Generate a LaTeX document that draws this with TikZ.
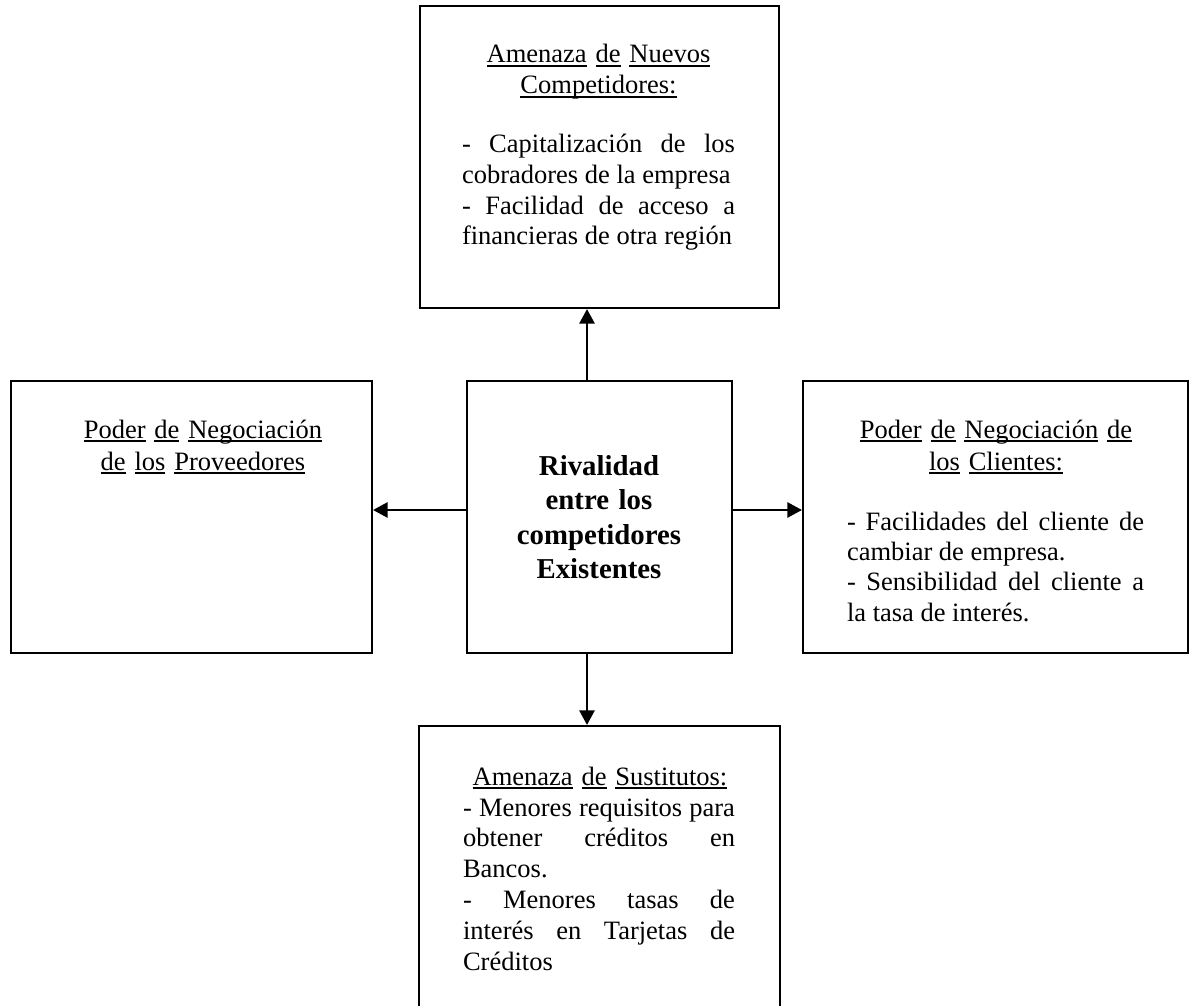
\documentclass[tikz,border=0pt]{standalone}
\usepackage{fontspec}
\setmainfont{Liberation Serif}
\usetikzlibrary{arrows.meta}
% word-by-word underline with a fixed depth below the baseline
\newsavebox\ulwordbox
\newcommand\ulword[1]{\leavevmode\sbox\ulwordbox{#1}\rlap{\rule[-1.9pt]{\wd\ulwordbox}{0.8pt}}\usebox\ulwordbox}
\begin{document}
\begin{tikzpicture}[x=0.5pt,y=-0.5pt,
  force/.style={draw, line width=1pt, rectangle, inner sep=0pt},
  link/.style={line width=1.3pt, -{Triangle[length=7.3pt,width=7.5pt]}},
  heading/.style={inner sep=0pt, anchor=base, align=center},
  body/.style={inner sep=0pt, anchor=base, align=justify,
    execute at begin node={\hyphenpenalty=10000\relax}}]
\useasboundingbox (0,0) rectangle (1196,1006);
\clip (0,0) rectangle (1196,1006);

% the five forces
\node[force, minimum width=179.5pt, minimum height=151pt] (nuevos)   at (599.5,157) {};
\node[force, minimum width=180.5pt, minimum height=136pt] (prov)     at (191.5,517) {};
\node[force, minimum width=132.5pt, minimum height=136pt] (rival)    at (599.5,517) {};
\node[force, minimum width=192.5pt, minimum height=136pt] (clientes) at (995.5,517) {};
\node[force, minimum width=180.5pt, minimum height=160pt] (sust)     at (599.5,886) {};

% texts
\node[heading, text width=170pt, font=\fontsize{13.25}{15.5}\selectfont] (nuevosH) at (598.5,63)
  {\ulword{Amenaza} \ulword{de} \ulword{Nuevos}\\\ulword{Competidores:}};
\node[body, text width=136.5pt, font=\fontsize{13.25}{15.3}\selectfont] (nuevosB) at (598.5,153)
  {- Capitalización de los\linebreak cobradores de la empresa\par
   - Facilidad de acceso a\linebreak financieras de otra región};

\node[heading, text width=175pt, font=\fontsize{13.25}{16}\selectfont] (provH) at (203,438)
  {\ulword{Poder} \ulword{de} \ulword{Negociación}\\\ulword{de} \ulword{los} \ulword{Proveedores}};

\node[heading, text width=130pt, font=\bfseries\fontsize{14.4}{17.3}\selectfont] (rivalT) at (599,475)
  {Rivalidad\\entre los\\competidores\\Existentes};

\node[heading, text width=185pt, font=\fontsize{13.25}{16}\selectfont] (clientesH) at (996,438)
  {\ulword{Poder} \ulword{de} \ulword{Negociación} \ulword{de}\\\ulword{los} \ulword{Clientes:}};
\node[body, text width=148.5pt, font=\fontsize{13.25}{15.2}\selectfont] (clientesB) at (995.5,530)
  {- Facilidades del cliente de\linebreak cambiar de empresa.\par
   - Sensibilidad del cliente a\linebreak la tasa de interés.};

\node[heading, text width=170pt, font=\fontsize{13.25}{15.4}\selectfont] (sustH) at (600,785)
  {\ulword{Amenaza} \ulword{de} \ulword{Sustitutos:}};
\node[body, text width=136pt, font=\fontsize{13.25}{15.4}\selectfont] (sustB) at (599,816)
  {- Menores requisitos para\linebreak obtener créditos en\linebreak Bancos.\par
   - Menores tasas de\linebreak interés en Tarjetas de\linebreak Créditos};

% connectors from the central rivalry box
\draw[link] ([xshift=-6.25pt]rival.north) -- ([xshift=-6.25pt]rival.north |- nuevos.south);
\draw[link] ([xshift=-6.25pt]rival.south) -- ([xshift=-6.25pt]rival.south |- sust.north);
\draw[link] ([yshift=3.5pt]rival.west) -- ([yshift=3.5pt]rival.west -| prov.east);
\draw[link] ([yshift=3.5pt]rival.east) -- ([yshift=3.5pt]rival.east -| clientes.west);
\end{tikzpicture}
\end{document}
